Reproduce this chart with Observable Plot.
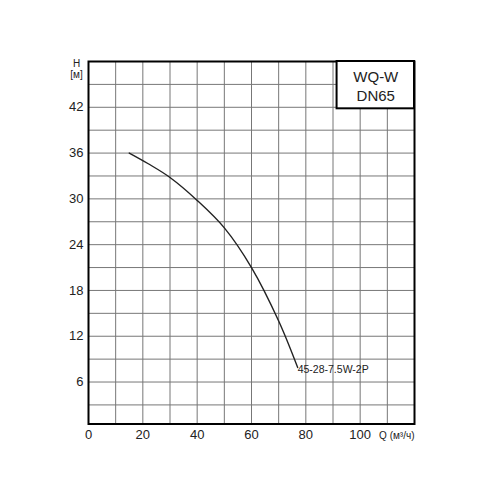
<!DOCTYPE html>
<html>
<head>
<meta charset="utf-8">
<script src="https://cdn.jsdelivr.net/npm/d3@7"></script>
<script src="https://cdn.jsdelivr.net/npm/@observablehq/plot@0.6"></script>
<style>
  body { margin: 0; background: #fff; }
  #chart { width: 500px; height: 500px; }
</style>
</head>
<body>
<div id="chart"></div>
<script>
const qValues = [15, 22, 30, 40, 50, 60, 70, 77];
const hValues = [36, 34.6, 32.8, 29.8, 26.2, 21, 14, 7.9];
const xTickLabels = [0, 20, 40, 60, 80, 100];
const yTickLabels = [6, 12, 18, 24, 30, 36, 42];
const xGrid = d3.range(10, 120, 10);
const yGrid = d3.range(3, 48, 3);
const curveLabel = "45-28-7.5W-2P";
const legendLines = ["WQ-W", "DN65"];
const legendBox = {x1: 91.5, x2: 120, y1: 41.8, y2: 48};

const curve = qValues.map((q, i) => ({q, h: hValues[i]}));
const font = "Liberation Sans, Arial, sans-serif";

const plot = Plot.plot({
  width: 500,
  height: 500,
  marginLeft: 88,
  marginRight: 86,
  marginTop: 61,
  marginBottom: 76.5,
  style: {fontFamily: font, background: "#fff"},
  x: {domain: [0, 120]},
  y: {domain: [0.5, 48]},
  marks: [
    Plot.ruleX(xGrid, {stroke: "#777", strokeWidth: 1}),
    Plot.ruleY(yGrid, {stroke: "#777", strokeWidth: 1}),
    Plot.axisX(xTickLabels, {tickSize: 0, tickPadding: 6, fontSize: 13, fill: "#222", label: null}),
    Plot.axisY(yTickLabels, {tickSize: 0, tickPadding: 5, fontSize: 13, fill: "#222", label: null}),
    Plot.frame({stroke: "#000", strokeWidth: 2}),
    Plot.rect([legendBox], {x1: "x1", x2: "x2", y1: "y1", y2: "y2", fill: "#fff", stroke: "#000", strokeWidth: 2}),
    Plot.text([legendLines.join("\n")], {x: (legendBox.x1 + legendBox.x2) / 2, y: (legendBox.y1 + legendBox.y2) / 2, text: d => d, fontSize: 15, fill: "#222", lineHeight: 1.25}),
    Plot.line(curve, {x: "q", y: "h", curve: "catmull-rom", stroke: "#222", strokeWidth: 1.4}),
    Plot.text([curve[curve.length - 1]], {x: "q", y: "h", text: () => curveLabel, textAnchor: "start", dx: 0, dy: 2, fontSize: 10.5, fill: "#222"}),
    Plot.text(["H\n[м]"], {frameAnchor: "top-left", text: d => d, dx: -12, dy: -2, textAnchor: "middle", lineAnchor: "top", fontSize: 10, fill: "#222", lineHeight: 1.1}),
    Plot.text(["Q (м³/ч)"], {frameAnchor: "bottom-right", text: d => d, dx: 0, dy: 12, textAnchor: "end", lineAnchor: "middle", fontSize: 10, fill: "#222"})
  ]
});
document.getElementById("chart").appendChild(plot);
</script>
</body>
</html>
